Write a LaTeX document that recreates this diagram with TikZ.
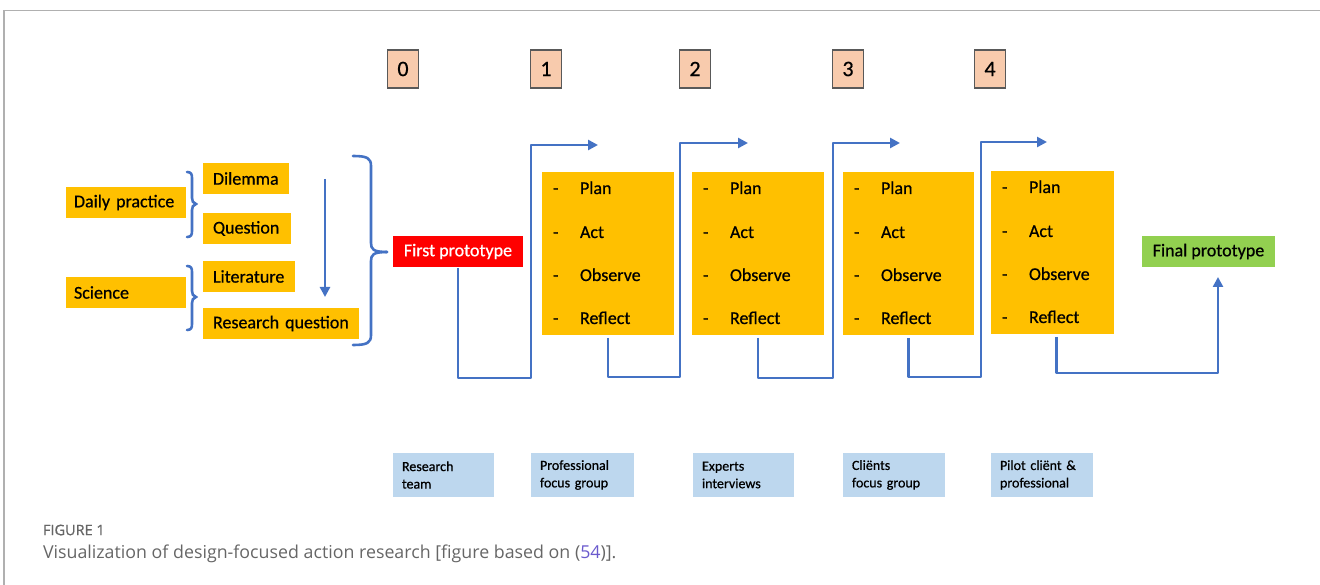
\documentclass[tikz,border=0pt]{standalone}
\usepackage{fontspec}
\setmainfont{Carlito}
\newfontfamily\dfont{Carlito}[FakeBold=0.6]
\newfontfamily\capfont{Open Sans}
\newfontfamily\capbold{Open Sans}[FakeBold=0.8]
\usetikzlibrary{arrows.meta}
\definecolor{gold}{HTML}{FFC000}
\definecolor{lblue}{HTML}{BDD7EE}
\definecolor{peach}{HTML}{F8CBAD}
\definecolor{conn}{HTML}{4472C4}
\definecolor{fgreen}{HTML}{92D050}
\definecolor{framegray}{HTML}{B0B0B0}
\definecolor{capgray}{HTML}{666666}
\definecolor{numborder}{HTML}{595959}
\definecolor{reflink}{HTML}{6A5ACD}
\begin{document}
\hyphenpenalty=10000
\exhyphenpenalty=10000
\begin{tikzpicture}[x=1pt,y=-1pt,
  every node/.style={inner sep=0pt, outer sep=0pt},
  lbox/.style={fill=gold, inner xsep=10pt, align=left, anchor=north west, minimum height=31pt, font=\dfont\fontsize{18}{21}\selectfont},
  pbox/.style={fill=gold, anchor=north west, minimum height=163pt},
  ptext/.style={anchor=west, text height=12pt, text depth=4pt, font=\dfont\fontsize{18}{21}\selectfont},
  numbox/.style={fill=peach, draw=numborder, line width=1.2pt, minimum width=31pt, minimum height=38pt, font=\dfont\fontsize{22}{24}\selectfont},
  bbox/.style={fill=lblue, inner xsep=9pt, align=left, anchor=north west, minimum height=44pt, font=\dfont\fontsize{14}{17.5}\selectfont},
  conn/.style={draw=conn, line width=2.8pt, line join=round},
  arr/.style={conn, -{Triangle[length=10pt,width=10pt]}},
  brc/.style={draw=conn, line width=2.6pt, line cap=round}
]
\useasboundingbox (0,0) rectangle (1320,585);
% frame
\draw[framegray, line width=1.4pt] (4,585) -- (4,10.5) -- (1320,10.5);

% numbers
\node[numbox] (n0) at (403,69) {0};
\node[numbox] (n1) at (546,69) {1};
\node[numbox] (n2) at (695,69) {2};
\node[numbox] (n3) at (848,69) {3};
\node[numbox] (n4) at (990,69) {4};

% left boxes
\node[lbox, inner xsep=8pt, text width=104pt] (dp) at (66,187) {\mbox{Daily practice}};
\node[lbox, text width=66pt] (dil) at (203,163) {Dilemma};
\node[lbox, text width=68pt] (que) at (203,213) {Question};
\node[lbox, text width=72pt] (lit) at (203,261) {Literature};
\node[lbox, inner xsep=8pt, text width=104pt] (sci) at (66,277) {Science};
\node[lbox, text width=136pt] (rq) at (203,308) {\mbox{Research question}};

% braces
\draw[brc] (187,172) .. controls (191,172) and (192,174) .. (192,178) -- (192,198)
  .. controls (192,201) and (193,203) .. (196,204)
  .. controls (193,205) and (192,207) .. (192,210) -- (192,231)
  .. controls (192,235) and (191,237) .. (187,237);
\draw[brc] (187,266) .. controls (191,266) and (192,268) .. (192,272) -- (192,291)
  .. controls (192,294) and (193,296) .. (196,297)
  .. controls (193,298) and (192,300) .. (192,303) -- (192,324)
  .. controls (192,328) and (191,330) .. (187,330);
\draw[brc] (353,156) .. controls (367,156) and (371,158) .. (371,166) -- (371,243)
  .. controls (371,249) and (373,252) .. (387,252);
\draw[brc] (353,345) .. controls (367,345) and (371,343) .. (371,335) -- (371,261)
  .. controls (371,255) and (373,252) .. (387,252);

% down arrow
\coordinate (dtop) at (325,179);
\coordinate (dbot) at (325,297);
\draw[arr] (dtop) -- (dbot);

% prototypes
\node[fill=red, text=white, minimum width=130pt, minimum height=31pt, font=\dfont\fontsize{18}{21}\selectfont] (fp) at (458,251.5) {First prototype};
\node[fill=fgreen, minimum width=133pt, minimum height=31pt, font=\dfont\fontsize{18}{21}\selectfont] (fin) at (1208.5,251.5) {Final prototype};

% PAOR boxes
\node[pbox, minimum width=132pt] (b1) at (542,172) {};
\node[pbox, minimum width=132pt] (b2) at (692,172) {};
\node[pbox, minimum width=131pt] (b3) at (843,172) {};
\node[pbox, minimum width=123pt] (b4) at (991,171) {};
\foreach \b in {b1,b2,b3,b4}{
  \foreach \t/\dy in {Plan/18,Act/62,Observe/105,Reflect/148}{
    \node[ptext] (\b-d-\t) at ([xshift=11pt,yshift=-\dy pt]\b.north west) {-};
    \node[ptext] (\b-\t) at ([xshift=38pt,yshift=-\dy pt]\b.north west) {\t};
  }
}

% loops
\coordinate (a0) at (598,145);
\coordinate (a1) at (748,143);
\coordinate (a2) at (900,143);
\coordinate (a3) at (1047,142);
\coordinate (a4) at (1218,277);
\draw[arr] ([yshift=-1pt]fp.south) |- (531,378) |- (a0);
\draw[arr] ([yshift=-3pt]b1.south) |- (680,377) |- (a1);
\draw[arr] ([yshift=-3pt]b2.south) |- (833,378) |- (a2);
\draw[arr] ([yshift=-3pt]b3.south) |- (981,377) |- (a3);
\draw[arr] ([xshift=4pt,yshift=-3pt]b4.south) |- (1218,373) -- (a4);

% bottom boxes
\node[bbox, text width=83pt] (t0) at (393,453) {Research\\team};
\node[bbox, text width=85pt] (t1) at (531,453) {Professional\\focus group};
\node[bbox, text width=83pt] (t2) at (693,453) {Experts\\interviews};
\node[bbox, text width=84pt] (t3) at (843,453) {Cliënts\\focus group};
\node[bbox, text width=84pt] (t4) at (991,453) {Pilot cliënt \&\\professional};

% caption
\node[anchor=west, text=capgray, font=\capbold\fontsize{14.5}{16}\selectfont] (figl) at (43,530) {FIGURE 1};
\node[anchor=west, text=capgray, font=\capfont\fontsize{17.8}{20}\selectfont] (cap) at (43,554) {Visualization of design-focused action research [figure based on (\textcolor{reflink}{54})].};
\end{tikzpicture}
\end{document}
